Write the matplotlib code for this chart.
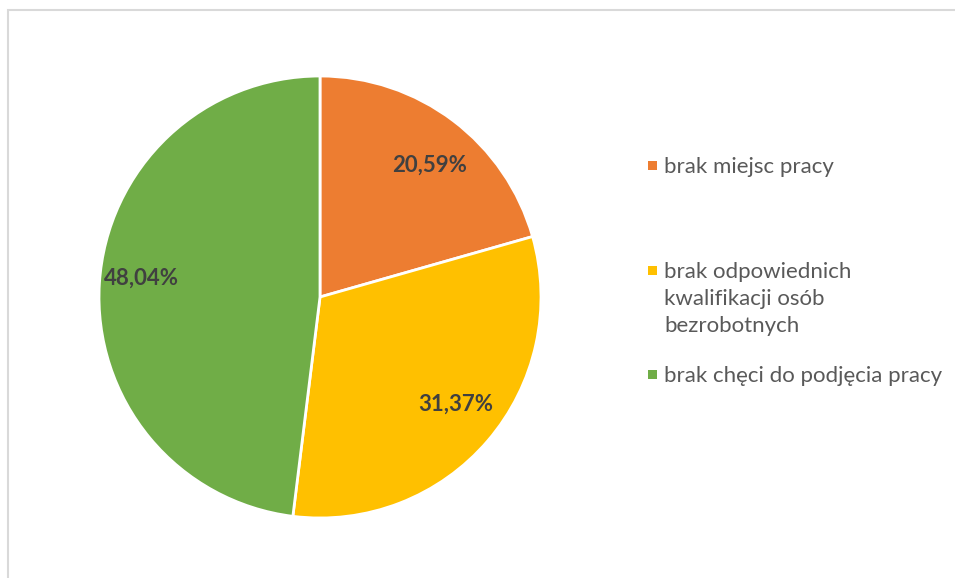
import matplotlib
matplotlib.use("Agg")
import matplotlib.pyplot as plt
from matplotlib.patches import Rectangle
from matplotlib.transforms import offset_copy

categories = ["brak miejsc pracy",
              "brak odpowiednich\nkwalifikacji osób\nbezrobotnych",
              "brak chęci do podjęcia pracy"]
values = [20.59, 31.37, 48.04]
colors = ["#ED7D31", "#FFC000", "#70AD47"]

plt.rcParams['font.family'] = ['Lato', 'DejaVu Sans']

W, H = 955, 578
fig = plt.figure(figsize=(W / 100, H / 100), dpi=100)
fig.patch.set_facecolor("white")

# frame
fig.patches.append(Rectangle((7.5 / W, -0.1), 2.0, (H - 10.5) / H + 0.1,
                             transform=fig.transFigure, fill=False,
                             edgecolor="#D9D9D9", linewidth=1.5))

ax = fig.add_axes([99 / W, (H - 518) / H, 442 / W, 442 / H])
wedges, texts, autotexts = ax.pie(
    values, colors=colors, startangle=90, counterclock=False,
    autopct="%.2f%%", pctdistance=0.79,
    wedgeprops=dict(edgecolor="white", linewidth=2),
    textprops=dict(fontsize=16, fontweight="bold", color="#404040"))
# small label nudges (pixels), mimicking Excel's placement
nudges = [(4, -8), (3, 6), (-4, 8)]
for t, v, (dx, dy) in zip(autotexts, values, nudges):
    t.set_text(f"{v:.2f}%".replace(".", ","))
    t.set_transform(offset_copy(ax.transData, fig=fig, x=dx, y=dy, units="dots"))
ax.set_aspect("equal")
ax.set_xlim(-1, 1)
ax.set_ylim(-1, 1)
ax.axis("off")

# legend (manual)
legend_y = [165, 270, 374]
line_h = 27
for lab, col, y in zip(categories, colors, legend_y):
    fig.patches.append(Rectangle((648 / W, 1 - (y + 4.5) / H), 9 / W, 9 / H,
                                 transform=fig.transFigure, facecolor=col,
                                 edgecolor="none"))
    for i, line in enumerate(lab.split("\n")):
        fig.text(664 / W, 1 - (y + 8 + i * line_h) / H, line, fontsize=16,
                 color="#595959", va="baseline", ha="left")

fig.savefig("out.png", dpi=100)
